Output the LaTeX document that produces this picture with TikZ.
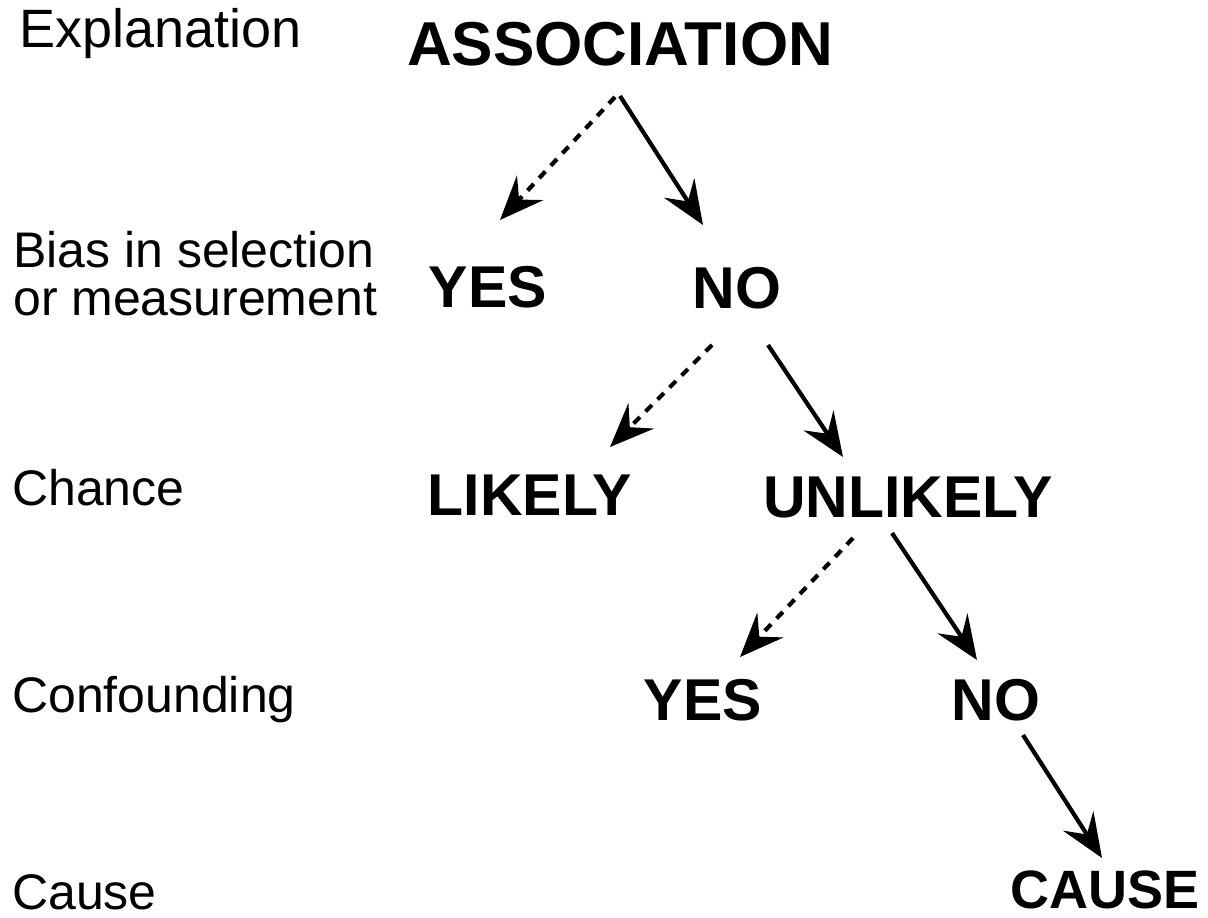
\documentclass[tikz,border=0pt]{standalone}
\usepackage{fontspec}
\setmainfont{Liberation Sans}
\usetikzlibrary{arrows.meta,calc}
\begin{document}
\begin{tikzpicture}[x=1pt,y=-1pt,
  lbl/.style={anchor=base west, inner sep=0pt, font=\fontsize{50}{48}\selectfont, align=left},
  val/.style={anchor=base, inner sep=0pt, font=\fontsize{59}{60}\selectfont\bfseries},
  arr/.style={line width=4.2pt, -{Stealth[length=44pt,width=36pt,inset=16pt]}},
  darr/.style={arr, dash pattern=on 9pt off 8pt}]
\fill[white] (0,0) rectangle (1208,918);
\useasboundingbox (0,0) rectangle (1208,918);
% row labels
\node[lbl, font=\fontsize{54}{48}\selectfont] (lexp) at (19,47) {Explanation};
\node[lbl] (lbias) at (13,315) {Bias in selection\\or measurement};
\node[lbl] (lchance) at (12,505) {Chance};
\node[lbl] (lconf) at (12,712) {Confounding};
\node[lbl] (lcause) at (12,909) {Cause};
% tree
\node[val, font=\fontsize{62}{62}\selectfont\bfseries] (assoc) at (620,65) {ASSOCIATION};
\node[val] (yesA) at (488,307) {YES};
\node[val] (noA) at (737,308) {NO};
\node[val] (likely) at (530,515) {LIKELY};
\node[val] (unlikely) at (908,517) {UNLIKELY};
\node[val] (yesB) at (703,720) {YES};
\node[val] (noB) at (996,720) {NO};
\node[val, font=\fontsize{54}{56}\selectfont\bfseries] (cause) at (1105,908) {CAUSE};
% connectors
\draw[darr] ($(assoc.base)+(-5,32)$) -- ($(yesA.base)+(12,-87)$);
\draw[arr] ($(assoc.base)+(0,31)$) -- ($(noA.base)+(-34,-83)$);
\draw[darr] ($(noA.base)+(-25,37)$) -- ($(likely.base)+(80,-68)$);
\draw[arr] ($(noA.base)+(31,37)$) -- ($(unlikely.base)+(-65,-60)$);
\draw[darr] ($(unlikely.base)+(-55,21)$) -- ($(yesB.base)+(37,-63)$);
\draw[arr] ($(unlikely.base)+(-16,16)$) -- ($(noB.base)+(-19,-60)$);
\draw[arr] ($(noB.base)+(27,15)$) -- ($(cause.base)+(-3,-50)$);
\end{tikzpicture}
\end{document}
